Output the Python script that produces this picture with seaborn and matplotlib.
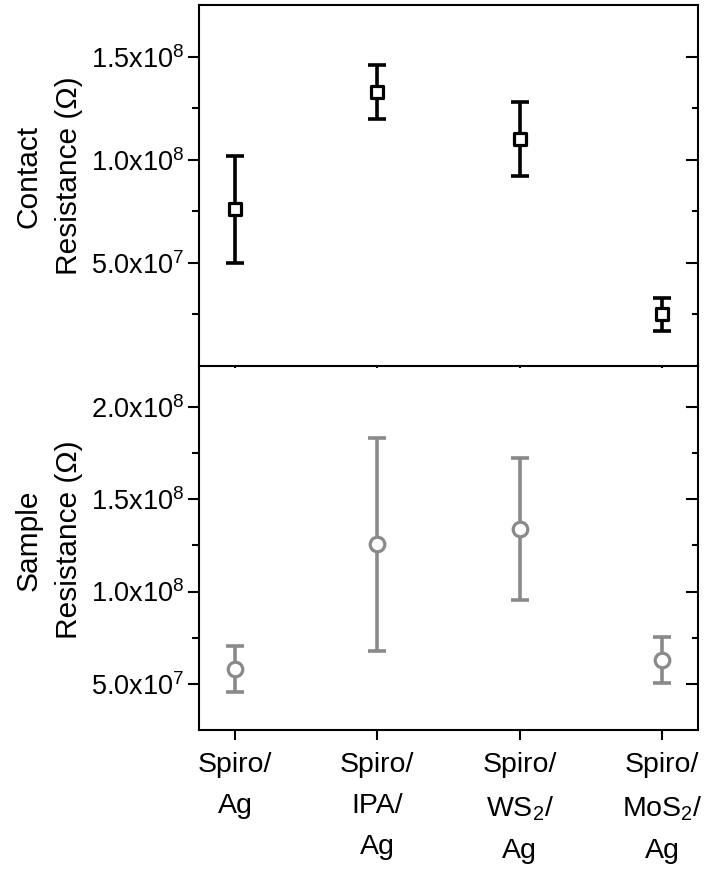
import matplotlib
matplotlib.use("Agg")
import matplotlib.pyplot as plt
import seaborn as sns
import pandas as pd
from matplotlib.ticker import FixedLocator

# Sample stacks
categories = ["Spiro/\nAg", "Spiro/\nIPA/\nAg", "Spiro/\nWS$_2$/\nAg", "Spiro/\nMoS$_2$/\nAg"]
positions = [0, 1, 2, 3]

# Contact resistance (Ohm) and its error
contact_mean = [7.6e7, 1.33e8, 1.10e8, 2.5e7]
contact_err = [2.6e7, 1.33e7, 1.8e7, 0.82e7]

# Sample resistance (Ohm) and its error
sample_mean = [5.8e7, 1.255e8, 1.338e8, 6.3e7]
sample_err = [1.23e7, 5.75e7, 3.85e7, 1.22e7]

# Axis ticks
contact_ticks = [5.0e7, 1.0e8, 1.5e8]
contact_ticklabels = ["5.0x10$^{7}$", "1.0x10$^{8}$", "1.5x10$^{8}$"]
contact_minor = [2.5e7, 7.5e7, 1.25e8]
sample_ticks = [5.0e7, 1.0e8, 1.5e8, 2.0e8]
sample_ticklabels = ["5.0x10$^{7}$", "1.0x10$^{8}$", "1.5x10$^{8}$", "2.0x10$^{8}$"]
sample_minor = [7.5e7, 1.25e8, 1.75e8]

sns.set_theme(style="ticks")
plt.rcParams["font.family"] = ["Liberation Sans", "DejaVu Sans"]
plt.rcParams["mathtext.fontset"] = "custom"
plt.rcParams["mathtext.rm"] = "Liberation Sans"
plt.rcParams["mathtext.it"] = "Liberation Sans:italic"
plt.rcParams["mathtext.bf"] = "Liberation Sans:bold"
plt.rcParams["text.color"] = "black"
plt.rcParams["xtick.labelcolor"] = "black"
plt.rcParams["ytick.labelcolor"] = "black"

W, H = 707, 881
fig = plt.figure(figsize=(W / 100, H / 100), dpi=100)
ax1 = fig.add_axes([199 / W, 1 - 366 / H, 499 / W, 361 / H])
ax2 = fig.add_axes([199 / W, 1 - 730 / H, 499 / W, 362 / H])

black = "#000000"
gray = "#8a8a8a"

df_c = pd.DataFrame({"x": positions, "y": contact_mean})
df_s = pd.DataFrame({"x": positions, "y": sample_mean})

ax1.errorbar(positions, contact_mean, yerr=contact_err, fmt="none", ecolor=black,
             elinewidth=2.6, capsize=6.5, capthick=2.6, zorder=2)
sns.scatterplot(data=df_c, x="x", y="y", ax=ax1, marker="s", s=80, color="white",
                edgecolor=black, linewidth=2.3, zorder=3, legend=False)

ax2.errorbar(positions, sample_mean, yerr=sample_err, fmt="none", ecolor=gray,
             elinewidth=2.6, capsize=6.5, capthick=2.6, zorder=2)
sns.scatterplot(data=df_s, x="x", y="y", ax=ax2, marker="o", s=110, color="white",
                edgecolor=gray, linewidth=2.3, zorder=3, legend=False)

for ax in (ax1, ax2):
    ax.set_xlim(-0.253, 3.253)
    ax.set_xlabel("")
    ax.set_ylabel("")
    for sp in ax.spines.values():
        sp.set_linewidth(1.5)
        sp.set_color("black")
        sp.set_visible(True)
    ax.tick_params(axis="y", which="both", left=True, right=True, labelright=False,
                   width=1.5, color="black", labelsize=19.5, pad=3, labelcolor="black")
    ax.tick_params(axis="y", which="major", length=7.8)
    ax.tick_params(axis="y", which="minor", length=5)
    ax.set_xticks(positions)

ax1.set_ylim(0, 1.752e8)
ax1.yaxis.set_major_locator(FixedLocator(contact_ticks))
ax1.set_yticklabels(contact_ticklabels)
ax1.yaxis.set_minor_locator(FixedLocator(contact_minor))
ax1.tick_params(axis="x", which="both", bottom=True, top=False, labelbottom=False,
                direction="out", length=8.5, width=1.5, color="black")

ax2.set_ylim(2.51e7, 2.21e8)
ax2.yaxis.set_major_locator(FixedLocator(sample_ticks))
ax2.set_yticklabels(sample_ticklabels)
ax2.yaxis.set_minor_locator(FixedLocator(sample_minor))
ax2.spines["top"].set_visible(False)
ax2.tick_params(axis="x", which="both", bottom=True, top=False, direction="out",
                length=7, width=1.5, color="black", labelsize=20.5, pad=9,
                labelcolor="black")
ax2.set_xticklabels(categories, va="top", linespacing=1.75)

# Right-side ticks point inward, left-side outward
for ax in (ax1, ax2):
    for t in ax.yaxis.get_major_ticks() + ax.yaxis.get_minor_ticks():
        t.tick2line.set_marker(matplotlib.lines.TICKLEFT)
    for t in ax.yaxis.get_major_ticks():
        t.tick2line.set_markersize(8.5)
    for t in ax.yaxis.get_minor_ticks():
        t.tick2line.set_markersize(4.5)

fig.text(49 / W, 1 - 176 / H, "Contact\nResistance (\u03a9)", rotation=90,
         ha="center", va="center", fontsize=21.5, linespacing=1.55, color="black")
fig.text(49 / W, 1 - 540 / H, "Sample\nResistance (\u03a9)", rotation=90,
         ha="center", va="center", fontsize=21.5, linespacing=1.55, color="black")

fig.savefig("out.png", dpi=100, facecolor="white")
